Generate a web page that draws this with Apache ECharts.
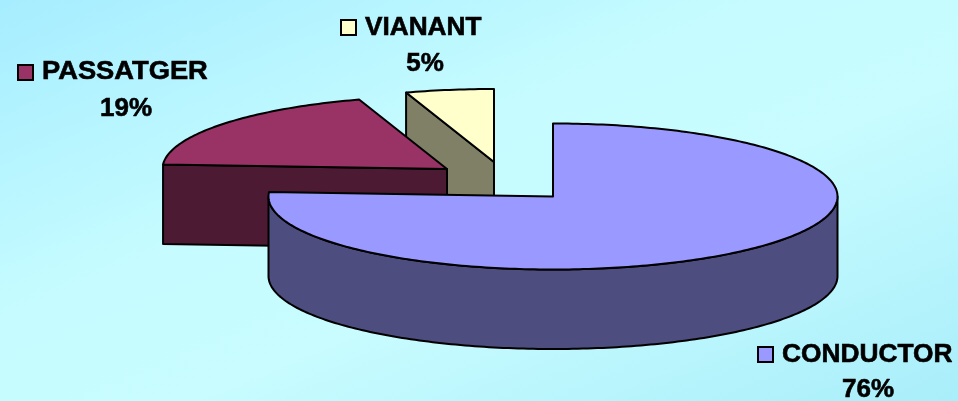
<!DOCTYPE html>
<html>
<head>
<meta charset="utf-8">
<style>
  html, body { margin: 0; padding: 0; }
  #chart { width: 958px; height: 401px; }
</style>
<script src="https://cdn.jsdelivr.net/npm/echarts@6/dist/echarts.min.js"></script>
</head>
<body>
<div id="chart"></div>
<script>
// dades del grafic
const categories = ['CONDUCTOR', 'PASSATGER', 'VIANANT'];
const values = [76, 19, 5];

// colors
const topColors = ['#9999FF', '#993366', '#FFFFCC'];
const sideColors = ['#4D4D80', '#4D1A33', '#808066'];

// geometria del pastis 3D (el tros separat es desplaca el centre)
const radiusX = 284.5;
const radiusY = 73;
const depth = 79.5;
const centers = [[553, 196.5], [447, 169], [494, 162]];
const order = [3, 2, 1]; // els trossos de davant tapen els de darrere

// posicio de les etiquetes: [x text, y text, x percent, y percent, x clau, y clau]
const labels = [
  [782, 355, 868, 390, 758, 347],
  [42, 72, 126, 109, 18, 65],
  [365, 28, 425, 64, 341, 20]
];
// el text original no te kerning, aixi que s'eixampla una mica
const textStretch = [1.012, 1.05, 1.008];

const total = values.reduce((a, b) => a + b, 0);
const starts = [];
values.reduce((acc, v, i) => {
  starts[i] = acc;
  return acc + v / total * 360;
}, 0);

function point(c, deg, dy) {
  const r = deg * Math.PI / 180;
  return [c[0] + radiusX * Math.sin(r), c[1] - radiusY * Math.cos(r) + (dy || 0)];
}

function arc(c, from, to, dy) {
  const pts = [];
  const n = Math.max(2, Math.ceil(Math.abs(to - from)));
  for (let k = 0; k <= n; k++) {
    pts.push(point(c, from + (to - from) * k / n, dy));
  }
  return pts;
}

function face(points, fill, z2) {
  return {
    type: 'polygon',
    z2: z2,
    shape: { points: points },
    style: { fill: fill, stroke: '#000', lineWidth: 2, lineJoin: 'round' }
  };
}

function renderSlice(params, api) {
  const i = params.dataIndex;
  const value = api.value(0);
  const start = starts[i];
  const end = start + value / total * 360;
  const c = centers[i];
  const base = order[i] * 10;
  const children = [];

  // cara radial d'inici, nomes si mira cap endavant
  if (Math.sin(start * Math.PI / 180) < -0.001) {
    const p = point(c, start);
    children.push(face([c, p, [p[0], p[1] + depth], [c[0], c[1] + depth]], sideColors[i], base));
  }
  // paret exterior, nomes la meitat de davant
  const wallFrom = Math.max(start, 90);
  const wallTo = Math.min(end, 270);
  if (wallTo > wallFrom) {
    const wall = arc(c, wallFrom, wallTo, 0).concat(arc(c, wallTo, wallFrom, depth));
    children.push(face(wall, sideColors[i], base + 1));
  }
  // tapa de dalt
  children.push(face([c].concat(arc(c, start, end, 0)), topColors[i], base + 2));

  // clau de la llegenda i text
  const l = labels[i];
  children.push({
    type: 'rect', z2: 100,
    shape: { x: l[4], y: l[5], width: 15, height: 15 },
    style: { fill: topColors[i], stroke: '#000', lineWidth: 2 }
  });
  const font = 'bold 26px "Liberation Sans", Arial, sans-serif';
  children.push({
    type: 'text', z2: 100, x: l[0], y: l[1], scaleX: textStretch[i],
    style: { text: categories[i], font: font, fill: '#000', stroke: '#000', lineWidth: 0.6, textAlign: 'left', textVerticalAlign: 'middle' }
  });
  children.push({
    type: 'text', z2: 100, x: l[2], y: l[3],
    style: { text: value + '%', font: font, fill: '#000', stroke: '#000', lineWidth: 0.6, textAlign: 'center', textVerticalAlign: 'middle' }
  });
  return { type: 'group', children: children };
}

const chart = echarts.init(document.getElementById('chart'));
chart.setOption({
  animation: false,
  backgroundColor: {
    type: 'linear', global: true, x: 0, y: 0, x2: 286, y2: 682,
    colorStops: [
      { offset: 0, color: '#A6EDFF' },
      { offset: 0.4, color: '#C6FCFF' },
      { offset: 0.6, color: '#C8FCFF' },
      { offset: 1, color: '#A9EEFA' }
    ]
  },
  series: [{
    type: 'custom',
    coordinateSystem: 'none',
    renderItem: renderSlice,
    data: values.map(v => [v])
  }]
});
</script>
</body>
</html>
